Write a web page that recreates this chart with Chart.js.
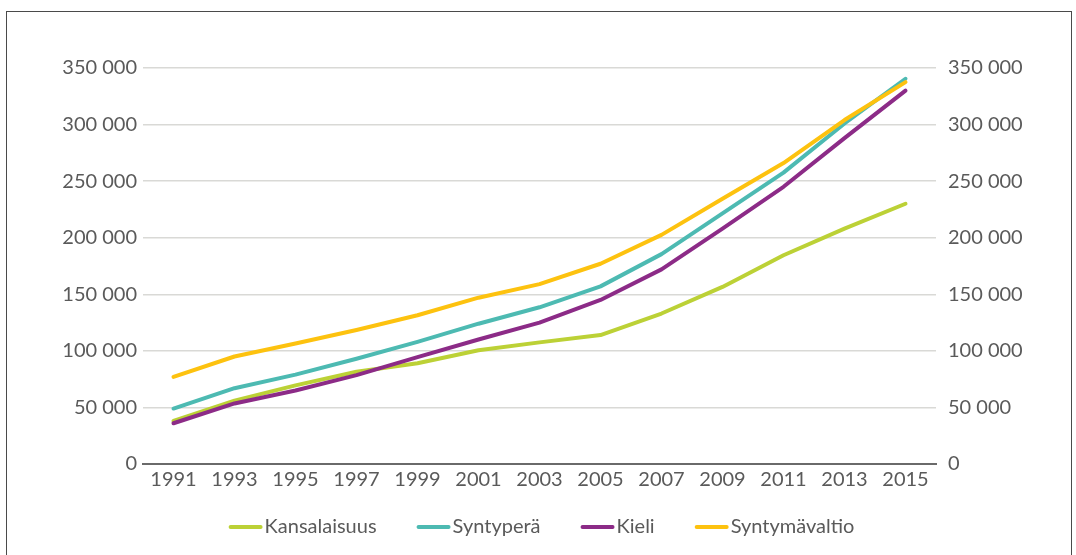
<!DOCTYPE html>
<html>
<head>
<meta charset="utf-8">
<script src="https://cdn.jsdelivr.net/npm/chart.js@4"></script>
<style>
  html, body { margin: 0; padding: 0; background: #fff; overflow: hidden; }
  #wrap { position: relative; width: 1076px; height: 555px; }
  #frame { position: absolute; left: 6px; top: 11px; width: 1066px; height: 620px;
           border: 1px solid #4a4a4a; box-sizing: border-box; }
  #c { position: absolute; left: 0; top: 0; }
</style>
</head>
<body>
<div id="wrap">
  <div id="frame"></div>
  <canvas id="c" width="1076" height="555"></canvas>
</div>
<script>
// Vuodet (x-akseli)
const years = ['1991', '1993', '1995', '1997', '1999', '2001', '2003', '2005', '2007', '2009', '2011', '2013', '2015'];

// Sarjat
const kansalaisuus  = [38000, 56000, 69500, 81500, 89000, 100500, 107500, 114000, 133000, 156500, 184500, 208000, 230000];
const syntypera     = [49000, 67000, 79000, 93000, 108000, 124000, 138500, 157000, 185500, 221500, 257500, 301000, 340500];
const kieli         = [36000, 53500, 65000, 78500, 94500, 110000, 125000, 145000, 172000, 208000, 245000, 288000, 330000];
const syntymavaltio = [77000, 95000, 106500, 118500, 131500, 147000, 159000, 177000, 202500, 234500, 266000, 304000, 337500];

// Y-akselin asteikko
const yTicks = [0, 50000, 100000, 150000, 200000, 250000, 300000, 350000];

const FONT = 'Lato, "Open Sans", sans-serif';
const FSIZE = 20;
const TEXT = '#5a5a5a';
const fmt = v => String(v).replace(/\B(?=(\d{3})+(?!\d))/g, ' ');

function line(label, data, color, order) {
  return {
    label, data, order,
    borderColor: color, backgroundColor: color,
    borderWidth: 4, borderCapStyle: 'round', borderJoinStyle: 'round',
    pointRadius: 0, pointHoverRadius: 0, tension: 0, fill: false
  };
}

// Selite: lyhyt viiva + teksti, keskitettynä kuvaajan alle
const lineLegend = {
  id: 'lineLegend',
  afterDraw(chart) {
    const ctx = chart.ctx;
    const ds = chart.data.datasets;
    const sample = 34, gap = 2, spacing = 40, y = 527;
    ctx.save();
    ctx.font = FSIZE + 'px ' + FONT;
    const widths = ds.map(d => ctx.measureText(d.label).width);
    const total = widths.reduce((a, w) => a + sample + gap + w, 0) + spacing * (ds.length - 1);
    const ca = chart.chartArea;
    let x = (ca.left + ca.right) / 2 + 2 - total / 2;
    ds.forEach((d, i) => {
      ctx.strokeStyle = d.borderColor;
      ctx.lineWidth = 4;
      ctx.lineCap = 'round';
      ctx.beginPath();
      ctx.moveTo(x + 2, y);
      ctx.lineTo(x + sample - 2, y);
      ctx.stroke();
      ctx.fillStyle = TEXT;
      ctx.textBaseline = 'middle';
      ctx.textAlign = 'left';
      ctx.fillText(d.label, x + sample + gap, y);
      x += sample + gap + widths[i] + spacing;
    });
    ctx.restore();
  }
};

const yScale = (position, width, padding, grid) => ({
  type: 'linear', position,
  min: yTicks[0], max: yTicks[yTicks.length - 1],
  afterBuildTicks: s => { s.ticks = yTicks.map(v => ({ value: v })); },
  afterFit: s => { s.width = width; },
  border: { display: false },
  grid: grid ? { color: '#d9d9d6', lineWidth: 1.5, drawTicks: false } : { display: false, drawTicks: false },
  ticks: { color: TEXT, font: { family: FONT, size: FSIZE }, padding, callback: v => fmt(v) }
});

new Chart(document.getElementById('c'), {
  type: 'line',
  data: {
    labels: years,
    datasets: [
      line('Kansalaisuus', kansalaisuus, '#bcd136', 4),
      line('Syntyperä', syntypera, '#4dbab2', 3),
      line('Kieli', kieli, '#8c2b87', 2),
      line('Syntymävaltio', syntymavaltio, '#fdc20f', 1)
    ]
  },
  options: {
    responsive: false,
    animation: false,
    events: [],
    layout: { padding: { top: 68, left: 0, right: 0, bottom: 0 } },
    plugins: { legend: { display: false }, tooltip: { enabled: false } },
    scales: {
      x: {
        offset: true,
        afterFit: s => { s.height = 91; },
        grid: { display: false, drawTicks: false },
        border: { display: true, color: '#6a6a6a', width: 2 },
        ticks: { color: TEXT, font: { family: FONT, size: FSIZE }, padding: 4, maxRotation: 0, autoSkip: false }
      },
      y: yScale('left', 143, 6, true),
      y2: yScale('right', 140, 12, false)
    }
  },
  plugins: [lineLegend]
});
</script>
</body>
</html>
